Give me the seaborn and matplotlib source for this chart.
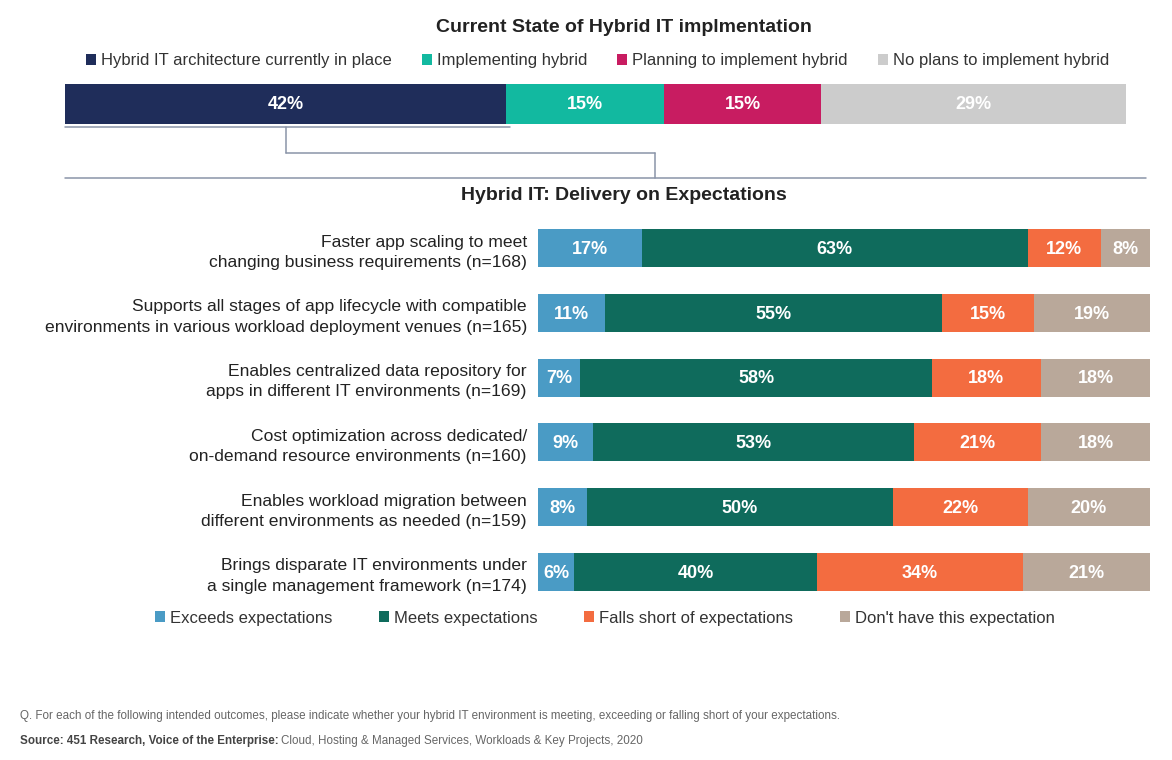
import matplotlib
matplotlib.use("Agg")
import matplotlib.pyplot as plt
from matplotlib.lines import Line2D
from matplotlib.patches import Patch
import numpy as np
import pandas as pd
import seaborn as sns

# ---------------- data ----------------
top_series = ["Hybrid IT architecture currently in place", "Implementing hybrid",
              "Planning to implement hybrid", "No plans to implement hybrid"]
top_values = [42, 15, 15, 29]
top_colors = ["#1F2D5A", "#12B9A0", "#C81C61", "#CCCCCC"]

categories = [
    "Faster app scaling to meet\nchanging business requirements (n=168)",
    "Supports all stages of app lifecycle with compatible\nenvironments in various workload deployment venues (n=165)",
    "Enables centralized data repository for\napps in different IT environments (n=169)",
    "Cost optimization across dedicated/\non-demand resource environments (n=160)",
    "Enables workload migration between\ndifferent environments as needed (n=159)",
    "Brings disparate IT environments under\na single management framework (n=174)",
]
series = ["Exceeds expectations", "Meets expectations",
          "Falls short of expectations", "Don't have this expectation"]
exceeds = [17, 11, 7, 9, 8, 6]
meets = [63, 55, 58, 53, 50, 40]
falls_short = [12, 15, 18, 21, 22, 34]
dont_have = [8, 19, 18, 18, 20, 21]
colors = ["#4A9BC5", "#0F6B5C", "#F36C40", "#B9A89A"]

# ---------------- style ----------------
sns.set_theme(style="white")
plt.rcParams["font.family"] = ["Liberation Sans", "DejaVu Sans"]

W, H = 1172, 760
fig = plt.figure(figsize=(W / 100, H / 100), dpi=100)


def fx(px):
    return px / W


def fy(py):
    return 1 - py / H


def stacked(ax, cats, vals_list, cols, height, fontsize):
    vals = np.array(vals_list, dtype=float)  # shape (nseries, ncats)
    totals = vals.sum(axis=0)
    norm = vals / totals * 100
    cum = np.cumsum(norm, axis=0)
    for i in range(len(vals) - 1, -1, -1):
        df = pd.DataFrame({"cat": cats, "x": cum[i]})
        sns.barplot(data=df, x="x", y="cat", orient="h", color=cols[i],
                    width=height, linewidth=0, saturation=1, ax=ax)
    for i in range(len(vals)):
        for j in range(len(cats)):
            c = cum[i][j] - norm[i][j] / 2
            ax.text(c, j + 0.02, f"{int(vals[i][j])}%", ha="center", va="center",
                    color="white", fontsize=fontsize, fontweight="bold")
    ax.set_xlim(0, 100)
    ax.set_xlabel("")
    ax.set_ylabel("")
    ax.set_xticks([])
    for s in ax.spines.values():
        s.set_visible(False)


# ---------------- top chart ----------------
ax1 = fig.add_axes([fx(65), fy(124), fx(1126 - 65), (124 - 84) / H])
stacked(ax1, ["All"], [[v] for v in top_values], top_colors, 1.0, 13)
ax1.set_ylim(0.5, -0.5)
ax1.set_yticks([])

fig.text(0.532, fy(28), "Current State of Hybrid IT implmentation", ha="center",
         va="center", fontsize=14, fontweight="bold", color="#222222")
top_handles = [Patch(facecolor=c, edgecolor="none") for c in top_colors]
fig.legend(top_handles, top_series, loc="center", bbox_to_anchor=(0.510, fy(61)),
           ncol=4, frameon=False, fontsize=12, handlelength=0.6, handleheight=0.6,
           handletextpad=0.3, columnspacing=1.8, labelcolor="#333333")

# connector lines
lc = "#8A94A8"
lines = [
    ([65, 510], [127, 127]),
    ([286, 286], [127, 153]),
    ([286, 655], [153, 153]),
    ([655, 655], [153, 178]),
]
for xs, ys in lines:
    fig.add_artist(Line2D([fx(x) for x in xs], [fy(y) for y in ys],
                          color=lc, linewidth=1.1))
fig.add_artist(Line2D([fx(65), fx(1146)], [fy(178), fy(178)], color="#8A94A8", linewidth=1.1))

fig.text(0.532, fy(196), "Hybrid IT: Delivery on Expectations", ha="center",
         va="center", fontsize=14, fontweight="bold", color="#222222")

# ---------------- bottom chart ----------------
row_sp = 64.8
top_px = 248 - row_sp / 2
bot_px = 572 + row_sp / 2
ax2 = fig.add_axes([fx(538), fy(bot_px), fx(1150 - 538), (bot_px - top_px) / H])
stacked(ax2, categories, [exceeds, meets, falls_short, dont_have], colors, 38 / row_sp, 13)
ax2.set_ylim(len(categories) - 0.5, -0.5)
ax2.set_yticks(range(len(categories)), labels=categories, linespacing=1.45,
               ha="right", multialignment="right")
ax2.tick_params(axis="y", length=0, pad=8, labelsize=12.6, labelcolor="#222222")

bot_handles = [Patch(facecolor=c, edgecolor="none") for c in colors]
fig.legend(bot_handles, series, loc="center", bbox_to_anchor=(0.516, fy(618)),
           ncol=4, frameon=False, fontsize=12, handlelength=0.6, handleheight=0.6,
           handletextpad=0.3, columnspacing=2.8, labelcolor="#333333")

# footnotes
fs = 8.4
fig.text(fx(20), fy(716), "Q. For each of the following intended outcomes, please indicate whether your hybrid IT environment is meeting, exceeding or falling short of your expectations.",
         ha="left", va="center", fontsize=fs, color="#666666")
t1 = fig.text(fx(20), fy(741), "Source: 451 Research, Voice of the Enterprise:", ha="left",
              va="center", fontsize=fs, color="#444444", fontweight="bold")
fig.canvas.draw()
bb = t1.get_window_extent()
fig.text(bb.x1 / W + 0.002, fy(741), "Cloud, Hosting & Managed Services, Workloads & Key Projects, 2020",
         ha="left", va="center", fontsize=fs, color="#666666")

fig.savefig("out.png", dpi=100)
